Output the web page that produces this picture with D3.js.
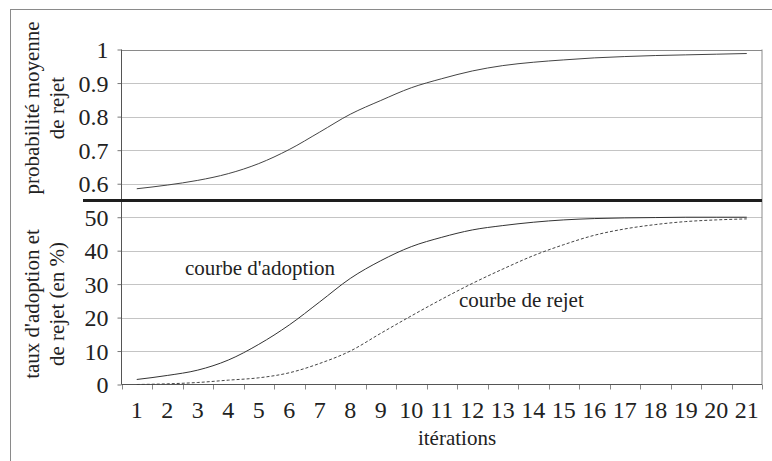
<!DOCTYPE html>
<html>
<head>
<meta charset="utf-8">
<script src="https://cdn.jsdelivr.net/npm/d3@7"></script>
<style>
  html, body { margin: 0; padding: 0; background: #fff; }
  svg { display: block; }
  svg text { font-family: 'Liberation Serif', 'Tinos', 'Times New Roman', Times, 'Noto Serif', 'DejaVu Serif', serif !important; fill: #222; }
</style>
</head>
<body>
<svg id="chart" width="772" height="461"></svg>
<script>
// ---- data ----
const iterations = ["1","2","3","4","5","6","7","8","9","10","11","12","13","14","15","16","17","18","19","20","21"];
const probRejet = [0.585,0.596,0.610,0.630,0.660,0.702,0.754,0.807,0.848,0.886,0.913,0.936,0.952,0.962,0.969,0.975,0.979,0.982,0.984,0.986,0.988];
const tauxAdoption = [1.5,2.7,4.3,7.3,12.0,17.8,24.7,31.7,37.0,41.2,44.0,46.2,47.5,48.5,49.2,49.6,49.8,49.9,50,50,50];
const tauxRejet = [0,0.2,0.6,1.3,2.0,3.5,6.3,10.0,15.3,20.5,25.5,30.2,34.5,38.5,41.8,44.6,46.5,47.8,48.7,49.2,49.5];
const topTicks = [0.6,0.7,0.8,0.9,1];
const topTickLabels = ["0.6","0.7","0.8","0.9","1"];
const bottomTicks = [0,10,20,30,40,50];
const xTitle = "itérations";
const topTitle = ["probabilité moyenne","de rejet"];
const bottomTitle = ["taux d'adoption et","de rejet (en %)"];
const labelAdoption = "courbe d'adoption";
const labelRejet = "courbe de rejet";

// ---- layout ----
const FONT = "'Liberation Serif', 'Tinos', 'Times New Roman', Times, 'Noto Serif', 'DejaVu Serif', serif";
const svg = d3.select("#chart");
const L = 121.5, R = 762, T = 49.5, MID = 200.5, B = 384.5;

const x = d3.scaleBand().domain(iterations).range([L, R]).padding(0);
const yTop = d3.scaleLinear().domain([0.55, 1]).range([MID, T]);
const yBot = d3.scaleLinear().domain([0, 55]).range([B, MID]);
const cx = i => x(iterations[i]) + x.bandwidth() / 2;

// outer frame (open at right/bottom, as cropped)
svg.append("rect").attr("x", 10.5).attr("y", 9.5).attr("width", 900).attr("height", 600)
  .attr("fill", "none").attr("stroke", "#8a8a8a").attr("stroke-width", 1);

// gridlines
svg.append("g").selectAll("line").data(topTicks).join("line")
  .attr("x1", L).attr("x2", R)
  .attr("y1", d => Math.round(yTop(d)) + 0.5).attr("y2", d => Math.round(yTop(d)) + 0.5)
  .attr("stroke", d => d === 1 ? "#8a8a8a" : "#c4c4c4").attr("stroke-width", 1);
svg.append("g").selectAll("line").data(bottomTicks.filter(d => d > 0)).join("line")
  .attr("x1", L).attr("x2", R)
  .attr("y1", d => Math.round(yBot(d)) + 0.5).attr("y2", d => Math.round(yBot(d)) + 0.5)
  .attr("stroke", "#c4c4c4").attr("stroke-width", 1);

// right border of plot
svg.append("line").attr("x1", R).attr("x2", R).attr("y1", T).attr("y2", B)
  .attr("stroke", "#8a8a8a");

// left axes with d3 axes
const axTop = d3.axisLeft(yTop).tickValues(topTicks).tickFormat((d, i) => topTickLabels[i]).tickSize(4).tickPadding(9);
const gTop = svg.append("g").attr("transform", `translate(${L},0)`).call(axTop);
const axBot = d3.axisLeft(yBot).tickValues(bottomTicks).tickFormat(d3.format("d")).tickSize(4).tickPadding(9);
const gBot = svg.append("g").attr("transform", `translate(${L},0)`).call(axBot);
[gTop, gBot].forEach(g => {
  g.attr("font-family", FONT);
  g.select(".domain").remove();
  g.selectAll(".tick line").attr("stroke", "#777");
  g.selectAll(".tick text").attr("font-size", 24).attr("fill", "#222")
    .style("font-family", FONT).attr("dy", "0.34em");
});
// continuous left axis line
svg.append("line").attr("x1", L).attr("x2", L).attr("y1", T).attr("y2", B)
  .attr("stroke", "#555");

// x axis
const axX = d3.axisBottom(x).tickSize(0).tickPadding(16);
const gX = svg.append("g").attr("transform", `translate(0,${B})`).call(axX);
gX.attr("font-family", FONT);
gX.select(".domain").remove();
gX.selectAll(".tick text").attr("font-size", 24).attr("fill", "#222")
  .style("font-family", FONT).attr("dy", "0.71em");
// boundary tick marks
const bounds = iterations.map(d => x(d)).concat([R]);
svg.append("g").selectAll("line").data(bounds).join("line")
  .attr("x1", d => Math.round(d) + 0.5).attr("x2", d => Math.round(d) + 0.5)
  .attr("y1", B).attr("y2", B + 5).attr("stroke", "#888");
svg.append("line").attr("x1", L).attr("x2", R).attr("y1", B).attr("y2", B).attr("stroke", "#555");

// thick separator
svg.append("line").attr("x1", 83).attr("x2", R).attr("y1", MID).attr("y2", MID)
  .attr("stroke", "#1e1e1e").attr("stroke-width", 3);

// lines
const lineTop = d3.line().x((d, i) => cx(i)).y(d => yTop(d)).curve(d3.curveMonotoneX);
const lineBot = d3.line().x((d, i) => cx(i)).y(d => yBot(d)).curve(d3.curveMonotoneX);
svg.append("path").datum(probRejet).attr("d", lineTop)
  .attr("fill", "none").attr("stroke", "#444").attr("stroke-width", 1);
svg.append("path").datum(tauxAdoption).attr("d", lineBot)
  .attr("fill", "none").attr("stroke", "#333").attr("stroke-width", 1);
svg.append("path").datum(tauxRejet).attr("d", lineBot)
  .attr("fill", "none").attr("stroke", "#444").attr("stroke-width", 1)
  .attr("stroke-dasharray", "3,2");

// annotations
svg.append("text").attr("x", 260).attr("y", 275).attr("text-anchor", "middle")
  .attr("font-size", 21).style("font-family", FONT).text(labelAdoption);
svg.append("text").attr("x", 459).attr("y", 307).attr("text-anchor", "start")
  .attr("font-size", 21).style("font-family", FONT).text(labelRejet);

// axis titles
svg.append("text").attr("x", 457).attr("y", 445).attr("text-anchor", "middle")
  .attr("font-size", 21).style("font-family", FONT).text(xTitle);
function vTitle(lines, cy) {
  const xs = [33, 58];
  lines.forEach((t, i) => {
    svg.append("text").attr("transform", `translate(${xs[i]},${cy}) rotate(-90)`)
      .attr("text-anchor", "middle").attr("dy", "0.3em").attr("font-size", 21)
      .style("font-family", FONT).text(t);
  });
}
vTitle(topTitle, 108);
vTitle(bottomTitle, 304);
</script>
</body>
</html>
